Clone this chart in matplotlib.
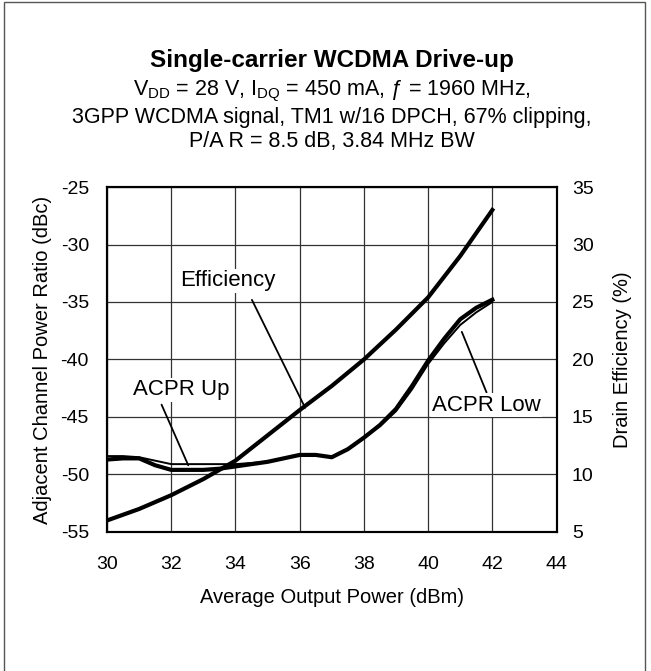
import numpy as np
import matplotlib
matplotlib.use("Agg")
import matplotlib.pyplot as plt
from matplotlib.patches import Rectangle

plt.rcParams['font.family'] = ['Liberation Sans', 'DejaVu Sans']
plt.rcParams['mathtext.fontset'] = 'custom'
plt.rcParams['mathtext.rm'] = 'Liberation Sans'
plt.rcParams['mathtext.it'] = 'Liberation Sans:italic'
plt.rcParams['axes.unicode_minus'] = False

# efficiency vs output power
pout_eff = [30, 31, 32, 33, 34, 35, 36, 37, 38, 39, 40, 41, 42]
efficiency = [6.0, 7.0, 8.2, 9.6, 11.2, 13.4, 15.6, 17.7, 20.0, 22.6, 25.4, 29.0, 33.0]

# ACPR vs output power
pout_acpr = [30, 30.5, 31, 31.5, 32, 32.5, 33, 33.5, 34, 34.5, 35, 35.5, 36, 36.5,
             37, 37.5, 38, 38.5, 39, 39.5, 40, 40.5, 41, 41.5, 42]
acpr_low = [-48.7, -48.6, -48.6, -49.2, -49.6, -49.6, -49.6, -49.5, -49.3, -49.1,
            -48.9, -48.6, -48.3, -48.3, -48.5, -47.8, -46.8, -45.7, -44.3, -42.3,
            -40.1, -38.2, -36.5, -35.5, -34.8]
acpr_up = [-48.4, -48.4, -48.5, -48.8, -49.1, -49.1, -49.1, -49.1, -49.1, -49.0,
           -48.9, -48.6, -48.3, -48.3, -48.5, -47.8, -46.8, -45.8, -44.5, -42.6,
           -40.4, -38.6, -37.0, -35.9, -35.0]

fig = plt.figure(figsize=(6.51, 6.71), dpi=100)
ax = fig.add_axes([0.1644, 0.2072, 0.6905, 0.5141])
ax2 = ax.twinx()

ax.set_xlim(30, 44)
ax.set_ylim(-55, -25)
ax2.set_ylim(5, 35)
ax.set_xticks(np.arange(30, 45, 2))
ax.set_yticks(np.arange(-55, -24, 5))
ax2.set_yticks(np.arange(5, 36, 5))
ax.grid(True, color='#333333', lw=0.9)
for a in (ax, ax2):
    a.tick_params(length=0, labelsize=14)
    for s in a.spines.values():
        s.set_linewidth(1.5)
ax.tick_params(axis='x', pad=17)
ax.tick_params(axis='y', pad=13)
ax2.tick_params(axis='y', pad=11)

ax.plot(pout_acpr, acpr_up, color='black', lw=1.4, zorder=3)
ax.plot(pout_acpr, acpr_low, color='black', lw=3, zorder=3)
ax2.plot(pout_eff, efficiency, color='black', lw=3)

ax.set_xlabel('Average Output Power (dBm)', fontsize=14.5, labelpad=11)
ax.set_ylabel('Adjacent Channel Power Ratio (dBc)', fontsize=14.5, labelpad=6)
ax2.set_ylabel('Drain Efficiency (%)', fontsize=14.5, labelpad=14)

box = dict(facecolor='white', edgecolor='none', pad=1)
arr = dict(arrowstyle='-', color='black', lw=1.3, shrinkA=0, shrinkB=0)
ax.annotate('Efficiency', xy=(36.17, -44.2), xytext=(33.77, -33.17), fontsize=16,
            ha='center', va='center', bbox=box,
            arrowprops=dict(arr, relpos=(0.75, -0.4)))
ax.annotate('ACPR Up', xy=(32.53, -49.2), xytext=(32.3, -42.65), fontsize=16,
            ha='center', va='center', bbox=box,
            arrowprops=dict(arr, relpos=(0.3, -0.2)))
ax.annotate('ACPR Low', xy=(41.05, -37.6), xytext=(41.82, -43.96), fontsize=16,
            ha='center', va='center', bbox=box,
            arrowprops=dict(arr, relpos=(0.5, 1.1)))

cx = 0.5092
fig.text(cx, 1 - 61 / 671, 'Single-carrier WCDMA Drive-up', fontsize=17.5,
         fontweight='bold', ha='center', va='center')
fig.text(cx, 1 - 91 / 671,
         r'V$_{\mathrm{DD}}$ = 28 V, I$_{\mathrm{DQ}}$ = 450 mA, ƒ = 1960 MHz,',
         fontsize=15.5, ha='center', va='center')
fig.text(cx, 1 - 117 / 671, '3GPP WCDMA signal, TM1 w/16 DPCH, 67% clipping,',
         fontsize=15.5, ha='center', va='center')
fig.text(cx, 1 - 142 / 671, 'P/A R = 8.5 dB, 3.84 MHz BW',
         fontsize=15.5, ha='center', va='center')

fig.patches.append(Rectangle((4 / 651, -0.01), 641 / 651, 1.01 - 1.5 / 671,
                             transform=fig.transFigure, fill=False,
                             edgecolor='#555555', lw=1))

fig.savefig('out.png', dpi=100)
